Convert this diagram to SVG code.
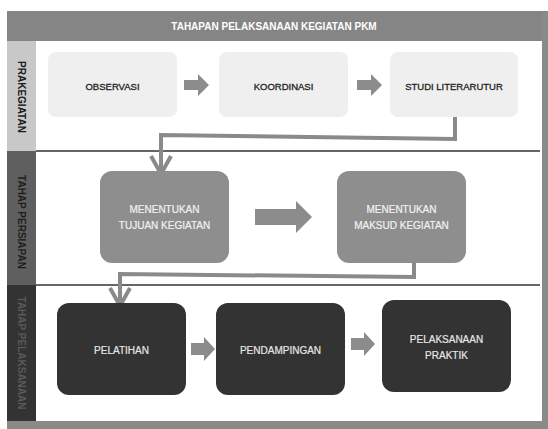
<svg xmlns="http://www.w3.org/2000/svg" width="548" height="429" viewBox="0 0 548 429">
<defs>
<style>
text{font-family:"Liberation Sans",Arial,sans-serif;text-anchor:middle;dominant-baseline:central}
.hdr{font-size:10px;font-weight:bold;fill:#ffffff}
.side{font-size:10px;font-weight:bold}
.b1{fill:#efefef}
.b2{fill:#8e8e8e}
.b3{fill:#333333}
.t1{font-size:9.5px;fill:#222222;stroke:#222222;stroke-width:0.3}
.t2{font-size:10px;fill:#f2f2f2;stroke:#f2f2f2;stroke-width:0.2}
.t3{font-size:10px;fill:#e6e6e6;stroke:#e6e6e6;stroke-width:0.2}
.arr{fill:#8c8c8c}
.con{fill:none;stroke:#8a8a8a;stroke-width:4;stroke-linejoin:miter}
.div{stroke:#333333;stroke-width:1.5}
</style>
</defs>
<rect x="0" y="0" width="548" height="429" fill="#ffffff"/>
<g id="frame">
<rect x="7" y="11" width="535" height="30" fill="#858585"/>
<rect x="542" y="11" width="6" height="418" fill="#8a8a8a"/>
<rect x="7" y="421" width="541" height="8" fill="#8a8a8a"/>
<rect x="7" y="41" width="29" height="110" fill="#c8c8c8"/>
<rect x="7" y="151" width="29" height="134" fill="#5f5f5f"/>
<rect x="7" y="285" width="29" height="136" fill="#333333"/>
<line class="div" x1="36" y1="151" x2="540" y2="151"/>
<line class="div" x1="36" y1="285" x2="540" y2="285"/>
<text class="hdr" x="274" y="26">TAHAPAN PELAKSANAAN KEGIATAN PKM</text>
<text class="side" fill="#1a1a1a" transform="translate(21.5,97) rotate(90)">PRAKEGIATAN</text>
<text class="side" fill="#1e1e1e" font-size="10.5" transform="translate(21.5,222) rotate(90)">TAHAP PERSIAPAN</text>
<text class="side" fill="#5a5a5a" font-size="10.5" transform="translate(21.5,353) rotate(90)">TAHAP PELAKSANAAN</text>
</g>
<g id="connectors">
<polygon class="arr" points="184,80 198,80 198,74 209,85 198,96 198,90 184,90"/>
<polygon class="arr" points="357,80 371,80 371,74 382,85 371,96 371,90 357,90"/>
<polygon class="arr" points="255,209 296,209 296,201 312,217 296,233 296,225 255,225"/>
<polygon class="arr" points="191,343 204,343 204,337 215,349 204,361 204,355 191,355"/>
<polygon class="arr" points="351,338 364,338 364,332 375,344 364,356 364,350 351,350"/>
<path class="con" d="M455,117 V139 L161,135 V173"/>
<polyline class="con" points="151,156 161,174 171,156"/>
<path class="con" d="M414,263 V277 L120,274 V305"/>
<polyline class="con" points="110,288 120,306 130,288"/>
</g>
<g id="observasi"><rect class="b1" x="48" y="52" width="129" height="65" rx="8"/><text class="t1" x="112.5" y="86">OBSERVASI</text></g>
<g id="koordinasi"><rect class="b1" x="219" y="52" width="129" height="65" rx="8"/><text class="t1" x="283.5" y="86">KOORDINASI</text></g>
<g id="studi"><rect class="b1" x="390" y="52" width="128" height="65" rx="8"/><text class="t1" x="454" y="86">STUDI LITERARUTUR</text></g>
<g id="tujuan"><rect class="b2" x="100" y="171" width="129" height="92" rx="12"/><text class="t2" x="164.5" y="209">MENENTUKAN</text><text class="t2" x="164.5" y="225">TUJUAN KEGIATAN</text></g>
<g id="maksud"><rect class="b2" x="337" y="171" width="129" height="92" rx="12"/><text class="t2" x="401.5" y="209">MENENTUKAN</text><text class="t2" x="401.5" y="225">MAKSUD KEGIATAN</text></g>
<g id="pelatihan"><rect class="b3" x="57" y="303" width="129" height="92" rx="12"/><text class="t3" x="121.5" y="350">PELATIHAN</text></g>
<g id="pendampingan"><rect class="b3" x="216" y="303" width="129" height="92" rx="12"/><text class="t3" x="280.5" y="350">PENDAMPINGAN</text></g>
<g id="praktik"><rect class="b3" x="382" y="300" width="129" height="92" rx="12"/><text class="t3" x="446.5" y="339">PELAKSANAAN</text><text class="t3" x="446.5" y="355">PRAKTIK</text></g>
</svg>
